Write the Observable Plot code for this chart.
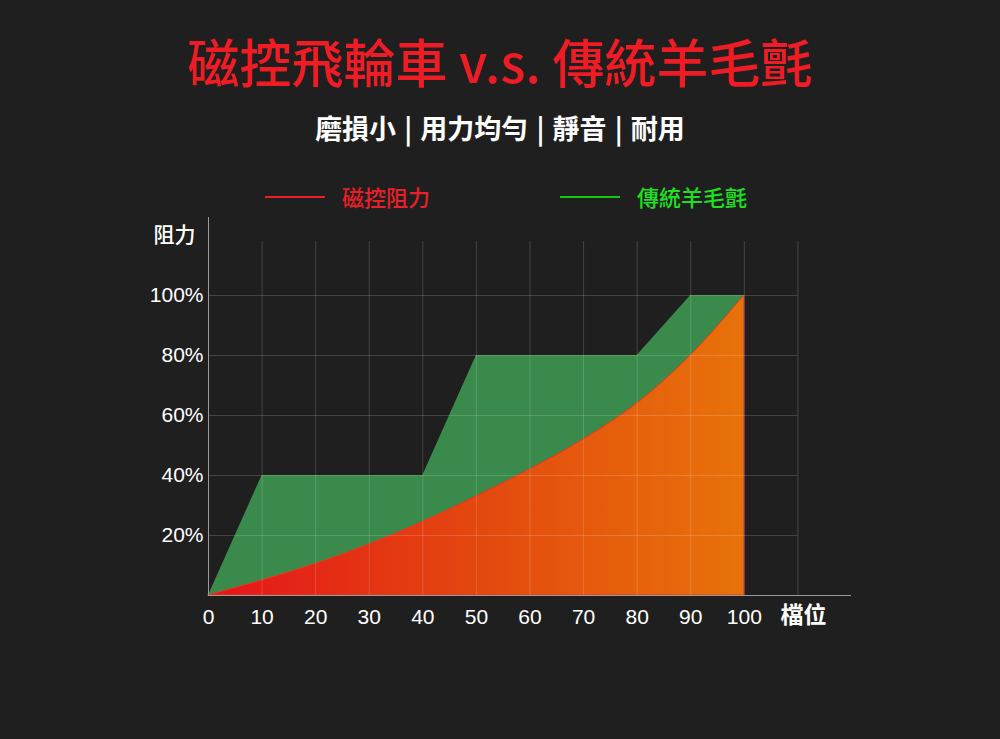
<!DOCTYPE html>
<html>
<head>
<meta charset="utf-8">
<script src="https://cdn.jsdelivr.net/npm/d3@7"></script>
<script src="https://cdn.jsdelivr.net/npm/@observablehq/plot@0.6"></script>
<style>
  html, body { margin: 0; padding: 0; background: #1f1f1f; }
  body { width: 1000px; height: 739px; overflow: hidden; font-family: "Liberation Sans", "Noto Sans CJK TC", sans-serif; }
  #header { position: relative; width: 1000px; height: 210px; }
  .abs { position: absolute; white-space: nowrap; line-height: 1; }
  #title { left: 0; width: 1000px; text-align: center; top: 35px; font-size: 52px; font-weight: 500; color: #ee1c24; font-family: "Noto Sans CJK TC", sans-serif; }
  #subtitle { left: 0; width: 1000px; text-align: center; top: 114px; font-size: 27px; font-weight: 700; color: #ffffff; font-family: "Noto Sans CJK TC", sans-serif; word-spacing: 2px; }
  .lg-line { position: absolute; height: 1.5px; width: 60px; top: 196px; }
  .lg-text { position: absolute; top: 185px; font-size: 22px; font-weight: 500; font-family: "Noto Sans CJK TC", sans-serif; line-height: 1; }
  #chart { display: block; }
</style>
</head>
<body>
<div id="header">
  <div id="title" class="abs"></div>
  <div id="subtitle" class="abs"></div>
  <div id="lg"></div>
</div>
<div id="chart"></div>
<script>
// ---- data ----
const titleText = "磁控飛輪車 v.s. 傳統羊毛氈";
const subtitleText = "磨損小 | 用力均勻 | 靜音 | 耐用";
const seriesNames = ["磁控阻力", "傳統羊毛氈"];
const seriesColors = ["#e8202a", "#1ee01e"];
const legendLineColors = ["#e8202a", "#14c814"];
const yLabel = "阻力";
const xLabel = "檔位";

const levels = [0, 10, 20, 30, 40, 50, 60, 70, 80, 90, 100];
const magneticResist = [0, 5, 10.5, 17, 24.5, 33, 42, 52, 64, 80, 100];

const feltLevels = [0, 10, 40, 50, 80, 90, 100];
const feltResist = [0, 40, 40, 80, 80, 100, 100];

const xTicks = [0, 10, 20, 30, 40, 50, 60, 70, 80, 90, 100];
const yTicks = [20, 40, 60, 80, 100];
const xGrid = [10, 20, 30, 40, 50, 60, 70, 80, 90, 100, 110];
const yGrid = [20, 40, 60, 80, 100];

// ---- header ----
document.getElementById("title").textContent = titleText;
document.getElementById("subtitle").textContent = subtitleText;
const lg = document.getElementById("lg");
const lgPos = [[265, 342], [560, 637]];
seriesNames.forEach((n, i) => {
  const l = document.createElement("div");
  l.className = "lg-line";
  l.style.left = lgPos[i][0] + "px";
  l.style.background = legendLineColors[i];
  lg.appendChild(l);
  const t = document.createElement("div");
  t.className = "lg-text";
  t.style.left = lgPos[i][1] + "px";
  t.style.color = seriesColors[i];
  t.textContent = n;
  lg.appendChild(t);
});

// ---- tables ----
const magnetic = levels.map((x, i) => ({x, y: magneticResist[i]}));
const felt = feltLevels.map((x, i) => ({x, y: feltResist[i]}));

const gridColor = "rgba(255,255,255,0.16)";
const axisColor = "#9a9a9a";

const svg = Plot.plot({
  width: 1000,
  height: 529,
  marginLeft: 208,
  marginRight: 149,
  marginTop: 10,
  marginBottom: 144,
  style: { background: "transparent", color: "#ffffff", fontFamily: "'Liberation Sans', 'Noto Sans CJK TC', sans-serif" },
  x: { domain: [0, 120] },
  y: { domain: [0, 125] },
  marks: [
    Plot.areaY(felt, { x: "x", y: "y", fill: "#3a8a4b" }),
    Plot.areaY(magnetic, { x: "x", y: "y", curve: "monotone-x", fill: "url(#orangeGrad)", stroke: "#f5321c", strokeWidth: 1 }),
    Plot.ruleX(xGrid, { y1: 0, y2: 118, stroke: gridColor, strokeWidth: 1 }),
    Plot.ruleY(yGrid, { x1: 0, x2: 110, stroke: gridColor, strokeWidth: 1 }),
    Plot.ruleX([0], { y1: 0, y2: 126, stroke: axisColor, strokeWidth: 1 }),
    Plot.ruleY([0], { x1: 0, x2: 120, stroke: axisColor, strokeWidth: 1 }),
    Plot.axisX(xTicks, { tickSize: 0, tickPadding: 14, fontSize: 21, fill: "#ffffff", label: null, tickFormat: d => String(d) }),
    Plot.axisY(yTicks, { tickSize: 0, tickPadding: 5, fontSize: 21, fill: "#ffffff", label: null, tickFormat: d => d + "%" }),
    Plot.text([yLabel], { frameAnchor: "top-left", textAnchor: "middle", lineAnchor: "middle", dx: -34, dy: 15, fontSize: 21, fill: "#ffffff", fontFamily: "'Noto Sans CJK TC', sans-serif", fontWeight: 500 }),
    Plot.text([xLabel], { frameAnchor: "bottom-right", textAnchor: "middle", lineAnchor: "middle", dx: -48, dy: 20, fontSize: 23, fill: "#ffffff", fontFamily: "'Noto Sans CJK TC', sans-serif", fontWeight: 700 })
  ]
});

const defs = d3.select(svg).insert("defs", ":first-child");
const grad = defs.append("linearGradient").attr("id", "orangeGrad").attr("x1", "0").attr("x2", "1").attr("y1", "0").attr("y2", "0");
grad.append("stop").attr("offset", "0").attr("stop-color", "#e5141a");
grad.append("stop").attr("offset", "0.5").attr("stop-color", "#e3480f");
grad.append("stop").attr("offset", "1").attr("stop-color", "#e8720a");

document.getElementById("chart").appendChild(svg);
</script>
</body>
</html>
